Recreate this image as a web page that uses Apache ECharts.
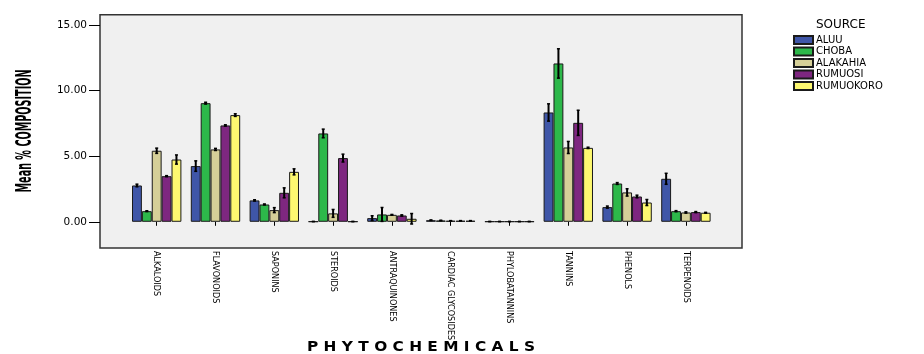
<!DOCTYPE html>
<html>
<head>
<meta charset="utf-8">
<script src="https://cdn.jsdelivr.net/npm/echarts@6/dist/echarts.min.js"></script>
<style>html,body{margin:0;padding:0;background:#fff;}#c{width:924px;height:354px;}</style>
</head>
<body>
<div id="c"></div>
<script>
var categories = ['ALKALOIDS','FLAVONOIDS','SAPONINS','STEROIDS','ANTRAQUINONES','CARDIAC GLYCOSIDES','PHYLOBATANNINS','TANNINS','PHENOLS','TERPENOIDS'];
var sources = ['ALUU','CHOBA','ALAKAHIA','RUMUOSI','RUMUOKORO'];
var aluu      = [2.77, 4.25, 1.63, 0.02, 0.28, 0.12, 0.02, 8.34, 1.12, 3.28];
var choba     = [0.81, 9.05, 1.32, 6.74, 0.56, 0.10, 0.02, 12.08, 2.92, 0.81];
var alakahia  = [5.42, 5.52, 0.89, 0.64, 0.53, 0.08, 0.02, 5.67, 2.24, 0.71];
var rumuosi   = [3.48, 7.35, 2.21, 4.86, 0.48, 0.08, 0.02, 7.55, 1.93, 0.74];
var rumuokoro = [4.75, 8.14, 3.81, 0.02, 0.23, 0.08, 0.02, 5.64, 1.47, 0.69];
var errAluu      = [0.10, 0.40, 0.05, 0.00, 0.18, 0.02, 0.00, 0.66, 0.08, 0.42];
var errChoba     = [0.03, 0.07, 0.04, 0.33, 0.53, 0.02, 0.00, 1.12, 0.07, 0.04];
var errAlakahia  = [0.20, 0.08, 0.19, 0.30, 0.03, 0.01, 0.00, 0.46, 0.28, 0.05];
var errRumuosi   = [0.04, 0.05, 0.38, 0.30, 0.05, 0.01, 0.00, 0.96, 0.10, 0.04];
var errRumuokoro = [0.35, 0.10, 0.23, 0.00, 0.40, 0.01, 0.00, 0.05, 0.23, 0.03];
var yTicks = [0, 5, 10, 15];
var colors = ['#3f56a8', '#2db84a', '#d5cf98', '#7e2780', '#fdf870'];

var values = [aluu, choba, alakahia, rumuosi, rumuokoro];
var errs = [errAluu, errChoba, errAlakahia, errRumuosi, errRumuokoro];
var nS = sources.length;
var catGap = 0.16;

var mctx = document.createElement('canvas').getContext('2d');
function textW(font, t) { mctx.font = font; return mctx.measureText(t).width; }
var yTitleFont = 'bold 22px "DejaVu Sans", sans-serif';
var yTitle = 'Mean % COMPOSITION';
var yTitleScale = 123 / textW(yTitleFont, yTitle);
var xTitleFont = 'bold 14px "DejaVu Sans", sans-serif';
var xTitle = 'P H Y T O C H E M I C A L S';
var xTitleScale = 228 / textW(xTitleFont, xTitle);

var chart = echarts.init(document.getElementById('c'), null, {renderer: 'canvas'});

var series = [];
values.forEach(function (vals, i) {
  series.push({
    name: sources[i],
    type: 'bar',
    xAxisIndex: 1, yAxisIndex: 1,
    data: vals,
    barGap: '0%',
    barCategoryGap: '16%',
    itemStyle: {color: colors[i], borderColor: '#1a1a1a', borderWidth: 1},
    emphasis: {disabled: true},
    silent: true,
    z: 2
  });
});
values.forEach(function (vals, i) {
  var d = vals.map(function (v, k) { return [k, v - errs[i][k], v + errs[i][k]]; });
  series.push({
    type: 'custom',
    xAxisIndex: 1, yAxisIndex: 1,
    data: d,
    silent: true,
    z: 5,
    renderItem: function (params, api) {
      var k = api.value(0);
      var lo = api.coord([k, api.value(1)]);
      var hi = api.coord([k, api.value(2)]);
      var band = api.size([1, 0])[0];
      var bw = band * (1 - catGap) / nS;
      var x = lo[0] + (i - (nS - 1) / 2) * bw;
      var cap = 1.5;
      return {
        type: 'group',
        children: [
          {type: 'line', shape: {x1: x, y1: lo[1], x2: x, y2: hi[1]}, style: {stroke: '#000', lineWidth: 2}},
          {type: 'line', shape: {x1: x - cap, y1: lo[1], x2: x + cap, y2: lo[1]}, style: {stroke: '#000', lineWidth: 1.5}},
          {type: 'line', shape: {x1: x - cap, y1: hi[1], x2: x + cap, y2: hi[1]}, style: {stroke: '#000', lineWidth: 1.5}}
        ]
      };
    }
  });
});

var option = {
  animation: false,
  backgroundColor: '#ffffff',
  grid: [
    {left: 100, top: 14.7, width: 642, height: 233.3, show: true, backgroundColor: '#f0f0f0', borderColor: '#333', borderWidth: 1.5, containLabel: false},
    {left: 127.3, top: 14.7, width: 588, height: 233.3, containLabel: false}
  ],
  xAxis: [
    {gridIndex: 0, type: 'value', min: 0, max: 1, show: false},
    {gridIndex: 1, type: 'category', data: categories,
     axisLine: {show: false},
     axisTick: {show: true, alignWithLabel: true, length: 4, lineStyle: {color: '#000', width: 1}},
     axisLabel: {rotate: -90, interval: 0, margin: 3, color: '#000',
       fontFamily: '"DejaVu Sans Condensed", "Liberation Sans Narrow", "DejaVu Sans", sans-serif', fontSize: 9}
    }
  ],
  yAxis: [
    {gridIndex: 0, type: 'value', min: -2, max: 15.8,
     axisLine: {show: false},
     splitLine: {show: false},
     axisTick: {show: true, length: 11, customValues: yTicks, lineStyle: {color: '#000', width: 1}},
     axisLabel: {customValues: yTicks, margin: 13, color: '#000', fontFamily: '"DejaVu Sans", sans-serif', fontSize: 10.5,
       formatter: function (v) { return v.toFixed(2); }}
    },
    {gridIndex: 1, type: 'value', min: -2, max: 15.8, show: false, splitLine: {show: false}}
  ],
  legend: {
    data: sources,
    orient: 'vertical',
    left: 793, top: 35,
    itemWidth: 19, itemHeight: 8, itemGap: 1.5,
    icon: 'rect',
    selectedMode: false,
    padding: 0,
    textStyle: {fontFamily: '"DejaVu Sans", sans-serif', fontSize: 10, color: '#000', padding: [0, 0, 0, -2]}
  },
  graphic: [
    {type: 'text', x: 816, y: 25, style: {text: 'SOURCE', font: '12px "DejaVu Sans", sans-serif', fill: '#000', verticalAlign: 'middle'}},
    {type: 'text', x: 421, y: 347, scaleX: xTitleScale,
     style: {text: xTitle, font: xTitleFont, fill: '#000', align: 'center', verticalAlign: 'middle'}},
    {type: 'text', x: 25, y: 131, rotation: Math.PI / 2, scaleX: yTitleScale,
     style: {text: yTitle, font: yTitleFont, fill: '#000', align: 'center', verticalAlign: 'middle'}}
  ],
  series: series
};
chart.setOption(option);
</script>
</body>
</html>
